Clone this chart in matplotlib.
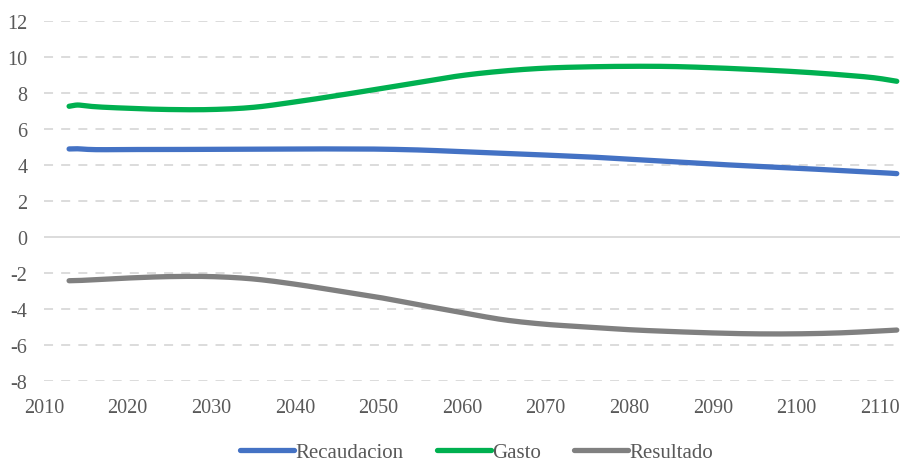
import numpy as np
import matplotlib.pyplot as plt

# Fiscal projection, % of GDP
years = [2013, 2014, 2015, 2020, 2025, 2030, 2035, 2040, 2045, 2050, 2055, 2060,
         2065, 2070, 2075, 2080, 2085, 2090, 2095, 2100, 2105, 2110, 2112]

recaudacion = [4.89, 4.90, 4.87, 4.86, 4.86, 4.87, 4.88, 4.89, 4.89, 4.88, 4.83, 4.74,
               4.65, 4.55, 4.45, 4.32, 4.18, 4.05, 3.93, 3.82, 3.70, 3.58, 3.52]

gasto = [7.26, 7.33, 7.28, 7.15, 7.08, 7.08, 7.20, 7.50, 7.85, 8.22, 8.60, 8.97,
         9.22, 9.38, 9.45, 9.48, 9.47, 9.40, 9.30, 9.18, 9.02, 8.80, 8.65]

resultado = [-2.43, -2.42, -2.40, -2.28, -2.20, -2.20, -2.33, -2.62, -2.98, -3.35, -3.78, -4.20,
             -4.60, -4.85, -5.00, -5.15, -5.25, -5.33, -5.38, -5.38, -5.33, -5.22, -5.17]

series = [
    ("Recaudacion", recaudacion, "#4472c4"),
    ("Gasto", gasto, "#00b050"),
    ("Resultado", resultado, "#808080"),
]

yticks = list(range(-8, 13, 2))
xticks = list(range(2010, 2111, 10))

plt.rcParams["font.family"] = ["Liberation Serif", "DejaVu Serif"]
plt.rcParams["axes.unicode_minus"] = False
text_color = "#595959"
grid_color = "#d9d9d9"

fig = plt.figure(figsize=(9.04, 4.64), dpi=100)
ax = fig.add_axes([0.0487, 0.1767, 0.947, 0.776])


def smooth(x, y, n=400):
    # cubic Hermite curve through the points, slopes from np.gradient
    x = np.asarray(x, float)
    y = np.asarray(y, float)
    xs = np.linspace(x[0], x[-1], n)
    m = np.gradient(y, x)
    out = np.empty_like(xs)
    for j, xv in enumerate(xs):
        i = min(np.searchsorted(x, xv, side="right") - 1, len(x) - 2)
        h = x[i + 1] - x[i]
        t = (xv - x[i]) / h
        h00 = 2 * t**3 - 3 * t**2 + 1
        h10 = t**3 - 2 * t**2 + t
        h01 = -2 * t**3 + 3 * t**2
        h11 = t**3 - t**2
        out[j] = h00 * y[i] + h10 * h * m[i] + h01 * y[i + 1] + h11 * h * m[i + 1]
    return xs, out


# gridlines: dashed everywhere except the zero line
for v in yticks:
    if v == 0:
        ax.axhline(v, color=grid_color, lw=1.3, zorder=1)
    else:
        ax.axhline(v, color=grid_color, lw=1.3, ls=(0, (5, 4.5)), zorder=1)

for name, vals, col in series:
    xs, ys = smooth(years, vals)
    ax.plot(xs, ys, color=col, lw=3.8, solid_capstyle="round", label=name, zorder=3)

ax.set_xlim(2010, 2112.4)
ax.set_ylim(-8, 12)
ax.set_yticks(yticks)
ax.set_xticks(xticks)
ax.tick_params(length=0, labelsize=14.5, colors=text_color, pad=12)
for s in ax.spines.values():
    s.set_visible(False)

handles, labels = ax.get_legend_handles_labels()
leg = fig.legend(handles, labels, loc="lower center", bbox_to_anchor=(0.527, -0.038),
                 ncol=3, frameon=False, fontsize=15, handlelength=2.6,
                 handletextpad=0.05, columnspacing=1.6)
for t in leg.get_texts():
    t.set_color(text_color)

fig.savefig("out.png", dpi=100)
